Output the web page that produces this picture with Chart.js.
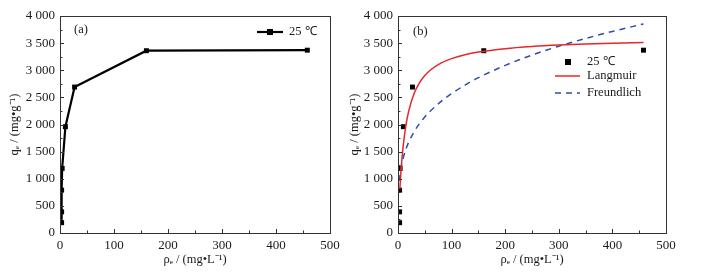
<!DOCTYPE html>
<html>
<head>
<meta charset="utf-8">
<script src="https://cdn.jsdelivr.net/npm/chart.js@4/dist/chart.umd.min.js"></script>
<style>
html,body{margin:0;padding:0;background:#fff;}
#wrap{position:relative;width:704px;height:278px;overflow:hidden;}
#ca{position:absolute;left:0;top:0;}
#cb{position:absolute;left:340px;top:0;}
</style>
</head>
<body>
<div id="wrap">
<canvas id="ca" width="352" height="278"></canvas>
<canvas id="cb" width="364" height="278"></canvas>
</div>
<script>
// ---- data ----
const seriesLabel = "25 ℃";
const rhoE = [3, 3, 3, 4, 10, 27, 160, 458];           // ρe / (mg·L⁻¹)
const qE   = [190, 390, 790, 1190, 1960, 2690, 3360, 3370]; // qe / (mg·g⁻¹)

const langC = [3.5, 5, 7.5, 10, 15, 20, 30, 40, 50, 60, 80, 100, 125, 150, 200, 250, 300, 350, 400, 458];
const langQ = [810, 1056, 1382, 1633, 1997, 2247, 2570, 2768, 2903, 3000, 3131, 3215, 3286, 3335, 3398, 3437, 3464, 3483, 3498, 3510];

const freC = [2.5, 5, 7.5, 10, 15, 20, 30, 40, 50, 60, 80, 100, 125, 150, 200, 250, 300, 350, 400, 458];
const freQ = [963, 1158, 1290, 1393, 1552, 1675, 1866, 2014, 2137, 2243, 2422, 2570, 2727, 2863, 3090, 3280, 3443, 3586, 3716, 3853];

const xTicks = [0, 100, 200, 300, 400, 500];
const yTicks = [0, 500, 1000, 1500, 2000, 2500, 3000, 3500, 4000];

const toXY = (xs, ys) => xs.map((x, i) => ({x: x, y: ys[i]}));

const FONT = "'Liberation Serif', 'Times New Roman', serif";
const fmt = v => {
  const s = String(v);
  return s.length > 3 ? s.slice(0, s.length - 3) + " " + s.slice(s.length - 3) : s;
};

function frameTicks(chart) {
  const ctx = chart.ctx, a = chart.chartArea;
  const xs = chart.scales.x, ys = chart.scales.y;
  ctx.save();
  ctx.strokeStyle = "#333";
  ctx.lineWidth = 1;
  ctx.strokeRect(Math.round(a.left) + 0.5, Math.round(a.top) + 0.5, Math.round(a.right - a.left), Math.round(a.bottom - a.top));
  ctx.beginPath();
  for (let v = 0; v <= 500; v += 50) {
    const px = Math.round(xs.getPixelForValue(v)) + 0.5;
    const len = (v % 100 === 0) ? 4 : 2.5;
    ctx.moveTo(px, a.bottom);
    ctx.lineTo(px, a.bottom - len);
  }
  for (let v = 0; v <= 4000; v += 250) {
    const py = Math.round(ys.getPixelForValue(v)) + 0.5;
    const len = (v % 500 === 0) ? 4 : 2.5;
    ctx.moveTo(a.left, py);
    ctx.lineTo(a.left + len, py);
  }
  ctx.stroke();
  ctx.restore();
}

function makeOptions(padRight, yWidth) {
  return {
    responsive: false,
    animation: false,
    layout: {padding: {left: 0, right: padRight, top: 16, bottom: 0}},
    plugins: {legend: {display: false}, tooltip: {enabled: false}},
    scales: {
      x: {
        type: 'linear', min: 0, max: 500,
        afterFit: s => { s.height = 45; },
        afterBuildTicks: s => { s.ticks = xTicks.map(v => ({value: v})); },
        grid: {display: false, drawTicks: false},
        border: {display: false},
        ticks: {font: {family: FONT, size: 13}, color: "#1a1a1a", padding: 5, maxRotation: 0},
        title: {display: true, text: "ρₑ / (mg•L⁻¹)", font: {family: FONT, size: 12.5}, color: "#1a1a1a", padding: {top: 0, bottom: 11}}
      },
      y: {
        type: 'linear', min: 0, max: 4000,
        afterFit: s => { s.width = yWidth; },
        afterBuildTicks: s => { s.ticks = yTicks.map(v => ({value: v})); },
        grid: {display: false, drawTicks: false},
        border: {display: false},
        ticks: {font: {family: FONT, size: 13}, color: "#1a1a1a", padding: 5, callback: v => fmt(v)},
        title: {display: true, text: "qₑ / (mg•g⁻¹)", font: {family: FONT, size: 12.5}, color: "#1a1a1a", padding: {top: 7, bottom: 0}}
      }
    }
  };
}

const plugA = {
  id: 'decorA',
  afterDraw(chart) {
    frameTicks(chart);
    const ctx = chart.ctx, a = chart.chartArea;
    ctx.save();
    ctx.fillStyle = "#1a1a1a";
    ctx.font = "12.5px " + FONT;
    ctx.textBaseline = "middle";
    ctx.fillText("(a)", a.left + 14, a.top + 14);
    // legend
    const ly = a.top + 16, lx = a.right - 73;
    ctx.strokeStyle = "#000"; ctx.lineWidth = 2.2;
    ctx.beginPath(); ctx.moveTo(lx, ly); ctx.lineTo(lx + 26, ly); ctx.stroke();
    ctx.fillStyle = "#000"; ctx.fillRect(lx + 10, ly - 3, 6, 6);
    ctx.fillStyle = "#1a1a1a";
    ctx.fillText(seriesLabel, lx + 32, ly);
    ctx.restore();
  }
};

const plugB = {
  id: 'decorB',
  afterDraw(chart) {
    frameTicks(chart);
    const ctx = chart.ctx, a = chart.chartArea;
    ctx.save();
    ctx.fillStyle = "#1a1a1a";
    ctx.font = "12.5px " + FONT;
    ctx.textBaseline = "middle";
    ctx.fillText("(b)", a.left + 15, a.top + 16);
    const lx = a.left + 157, tx = a.left + 189;
    ctx.fillStyle = "#000"; ctx.fillRect(lx + 10, 62 - 3, 6, 6);
    ctx.fillStyle = "#1a1a1a"; ctx.fillText(seriesLabel, tx, 62);
    ctx.strokeStyle = "#e8262b"; ctx.lineWidth = 1.5;
    ctx.beginPath(); ctx.moveTo(lx, 76); ctx.lineTo(lx + 25, 76); ctx.stroke();
    ctx.fillText("Langmuir", tx, 76);
    ctx.strokeStyle = "#2b4ea6"; ctx.setLineDash([6, 5]);
    ctx.beginPath(); ctx.moveTo(lx, 93); ctx.lineTo(lx + 25, 93); ctx.stroke();
    ctx.setLineDash([]);
    ctx.fillText("Freundlich", tx, 93);
    ctx.restore();
  }
};

new Chart(document.getElementById('ca'), {
  type: 'scatter',
  data: {datasets: [{
    label: seriesLabel,
    data: toXY(rhoE, qE),
    showLine: true,
    borderColor: '#000', borderWidth: 2.2,
    backgroundColor: '#000',
    pointStyle: 'rect', pointRadius: 3.5, pointBorderWidth: 0
  }]},
  options: makeOptions(22, 60),
  plugins: [plugA]
});

new Chart(document.getElementById('cb'), {
  type: 'scatter',
  data: {datasets: [
    {label: 'Langmuir', data: toXY(langC, langQ), showLine: true, borderColor: '#e8262b', borderWidth: 1.5, pointRadius: 0, cubicInterpolationMode: 'monotone'},
    {label: 'Freundlich', data: toXY(freC, freQ), showLine: true, borderColor: '#2b4ea6', borderWidth: 1.5, borderDash: [6, 5], pointRadius: 0, cubicInterpolationMode: 'monotone'},
    {label: seriesLabel, data: toXY(rhoE, qE), showLine: false, backgroundColor: '#000', borderColor: '#000', pointStyle: 'rect', pointRadius: 3.5, pointBorderWidth: 0}
  ]},
  options: makeOptions(38, 58),
  plugins: [plugB]
});
</script>
</body>
</html>
